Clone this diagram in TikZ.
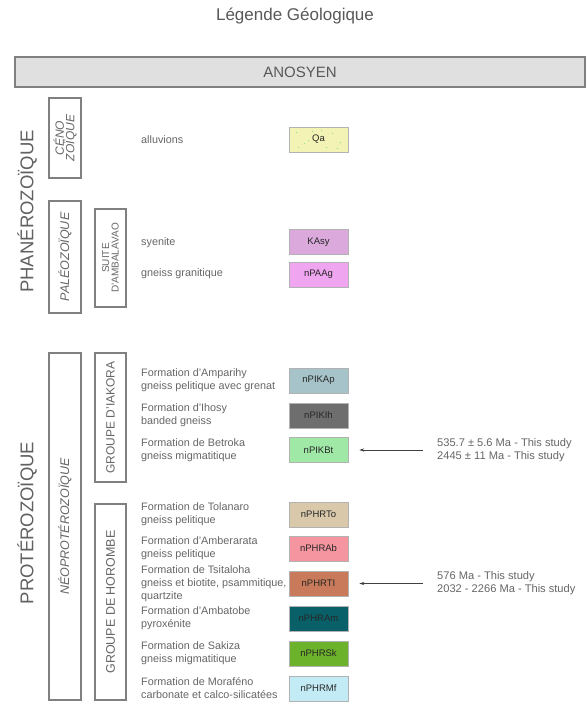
\documentclass[tikz,border=0pt]{standalone}
\usepackage{fontspec}
\setmainfont{Liberation Sans}
\usetikzlibrary{arrows.meta}
\definecolor{cQa}{HTML}{F3F3B5}
\definecolor{cKAsy}{HTML}{DBA9DB}
\definecolor{cPAAg}{HTML}{EFA5EF}
\definecolor{cIKAp}{HTML}{A5C3C8}
\definecolor{cIKIh}{HTML}{6E6E6E}
\definecolor{cIKBt}{HTML}{A0E8A5}
\definecolor{cHRTo}{HTML}{D9C8AA}
\definecolor{cHRAb}{HTML}{F5959F}
\definecolor{cHRTI}{HTML}{C97A5A}
\definecolor{cHRAm}{HTML}{0A6068}
\definecolor{cHRSk}{HTML}{6CB22A}
\definecolor{cHRMf}{HTML}{C3EBF5}
\tikzset{
  swatch/.style={draw=black!30, line width=0.6pt, minimum width=59pt, minimum height=25pt,
    inner sep=0pt, font=\fontsize{9.5}{11}\selectfont, text=black!85},
  leg/.style={anchor=west, align=left, text=black!60, inner sep=0pt,
    font=\fontsize{10.8}{13}\selectfont},
  age/.style={anchor=west, align=left, text=black!60, inner sep=0pt,
    font=\fontsize{11.1}{13}\selectfont},
  era/.style={rotate=90, text=black!62, inner sep=0pt, font=\fontsize{18.5}{20}\selectfont},
  gbox/.style={draw=black!50, line width=1.1pt, rotate=90, inner sep=0pt, align=center,
    text=black!60},
  arr/.style={-{Stealth[length=5pt,width=3.2pt]}, draw=black!75, line width=0.6pt,
    shorten <=14pt, shorten >=11pt},
}
\begin{document}
\begin{tikzpicture}[x=1pt,y=-1pt]
\useasboundingbox[fill=white] (0,0) rectangle (588,709);

% title and bar
\node[text=black!65, font=\fontsize{17}{20}\selectfont] (title) at (295,16) {Légende Géologique};
\node[draw=black!50, line width=1.2pt, fill=black!12, minimum width=570pt, minimum height=30pt,
  text=black!65, font=\fontsize{15}{18}\selectfont] (bar) at (300,72) {ANOSYEN};

% eras
\node[era] (phan) at (27,211.5) {PHANÉROZOÏQUE};
\node[era] (prot) at (27,523) {PROTÉROZOÏQUE};

% vertical boxes
\node[gbox, minimum width=80pt, minimum height=32pt,
  font=\itshape\fontsize{12}{10.5}\selectfont] (ceno) at (65,138) {CÉNO\\ZOÏQUE};
\node[gbox, minimum width=112pt, minimum height=32pt,
  font=\itshape\fontsize{12.5}{14}\selectfont] (paleo) at (65,257) {PALÉOZOÏQUE};
\node[gbox, minimum width=98pt, minimum height=31pt,
  font=\fontsize{10}{9.5}\selectfont] (suite) at (110.5,258) {SUITE\\D'AMBALAVAO};
\node[gbox, minimum width=347pt, minimum height=32pt,
  font=\itshape\fontsize{12.5}{14}\selectfont] (neo) at (65,526.5) {NÉOPROTÉROZOÏQUE};
\node[gbox, minimum width=129pt, minimum height=31pt,
  font=\fontsize{12}{14}\selectfont] (iakora) at (110.5,417.5) {GROUPE D'IAKORA};
\node[gbox, minimum width=196pt, minimum height=31pt,
  font=\fontsize{12.5}{14}\selectfont] (horombe) at (110.5,602) {GROUPE DE HOROMBE};

% swatches
\node[swatch, fill=cQa] (Qa) at (318.5,139.5) {Qa};
\foreach \dx/\dy in {-22/-7,-14/4,-6/-8,8/8,14/-6,22/3,-20/8,3/-9,19/9,-10/1}
  \fill[black!35!green!40] ([shift={(\dx,\dy)}]Qa.center) circle (0.7pt);
\node[swatch, fill=cKAsy] (KAsy) at (318.5,242) {KAsy};
\node[swatch, fill=cPAAg] (nPAAg) at (318.5,274.5) {nPAAg};
\node[swatch, fill=cIKAp] (nPIKAp) at (318.5,380.5) {nPIKAp};
\node[swatch, fill=cIKIh] (nPIKIh) at (318.5,415.5) {nPIKIh};
\node[swatch, fill=cIKBt] (nPIKBt) at (318.5,450) {nPIKBt};
\node[swatch, fill=cHRTo] (nPHRTo) at (318.5,514.5) {nPHRTo};
\node[swatch, fill=cHRAb] (nPHRAb) at (318.5,548.5) {nPHRAb};
\node[swatch, fill=cHRTI] (nPHRTI) at (318.5,583.5) {nPHRTI};
\node[swatch, fill=cHRAm] (nPHRAm) at (318.5,618.5) {nPHRAm};
\node[swatch, fill=cHRSk] (nPHRSk) at (318.5,653.5) {nPHRSk};
\node[swatch, fill=cHRMf] (nPHRMf) at (318.5,688.5) {nPHRMf};

% legend texts
\node[leg] (tQa) at (141,140) {alluvions};
\node[leg] (tKAsy) at (141,243) {syenite};
\node[leg] (tPAAg) at (141,274) {gneiss granitique};
\node[leg] (tIKAp) at (141,380.5) {Formation d'Amparihy\\gneiss pelitique avec grenat};
\node[leg] (tIKIh) at (141,415.5) {Formation d'Ihosy\\banded gneiss};
\node[leg] (tIKBt) at (141,450) {Formation de Betroka\\gneiss migmatitique};
\node[leg] (tHRTo) at (141,514.5) {Formation de Tolanaro\\gneiss pelitique};
\node[leg] (tHRAb) at (141,548.5) {Formation d'Amberarata\\gneiss pelitique};
\node[leg] (tHRTI) at (141,583.5) {Formation de Tsitaloha\\gneiss et biotite, psammitique,\\quartzite};
\node[leg] (tHRAm) at (141,618.5) {Formation d'Ambatobe\\pyroxénite};
\node[leg] (tHRSk) at (141,653.5) {Formation de Sakiza\\gneiss migmatitique};
\node[leg] (tHRMf) at (141,688.5) {Formation de Moraféno\\carbonate et calco-silicatées};

% ages and arrows
\node[age] (age1) at (437,450) {535.7 ± 5.6 Ma - This study\\2445 ± 11 Ma - This study};
\node[age] (age2) at (437,583.5) {576 Ma - This study\\2032 - 2266 Ma - This study};
\draw[arr] (age1.west) -- (nPIKBt.east);
\draw[arr] (age2.west) -- (nPHRTI.east);
\end{tikzpicture}
\end{document}
